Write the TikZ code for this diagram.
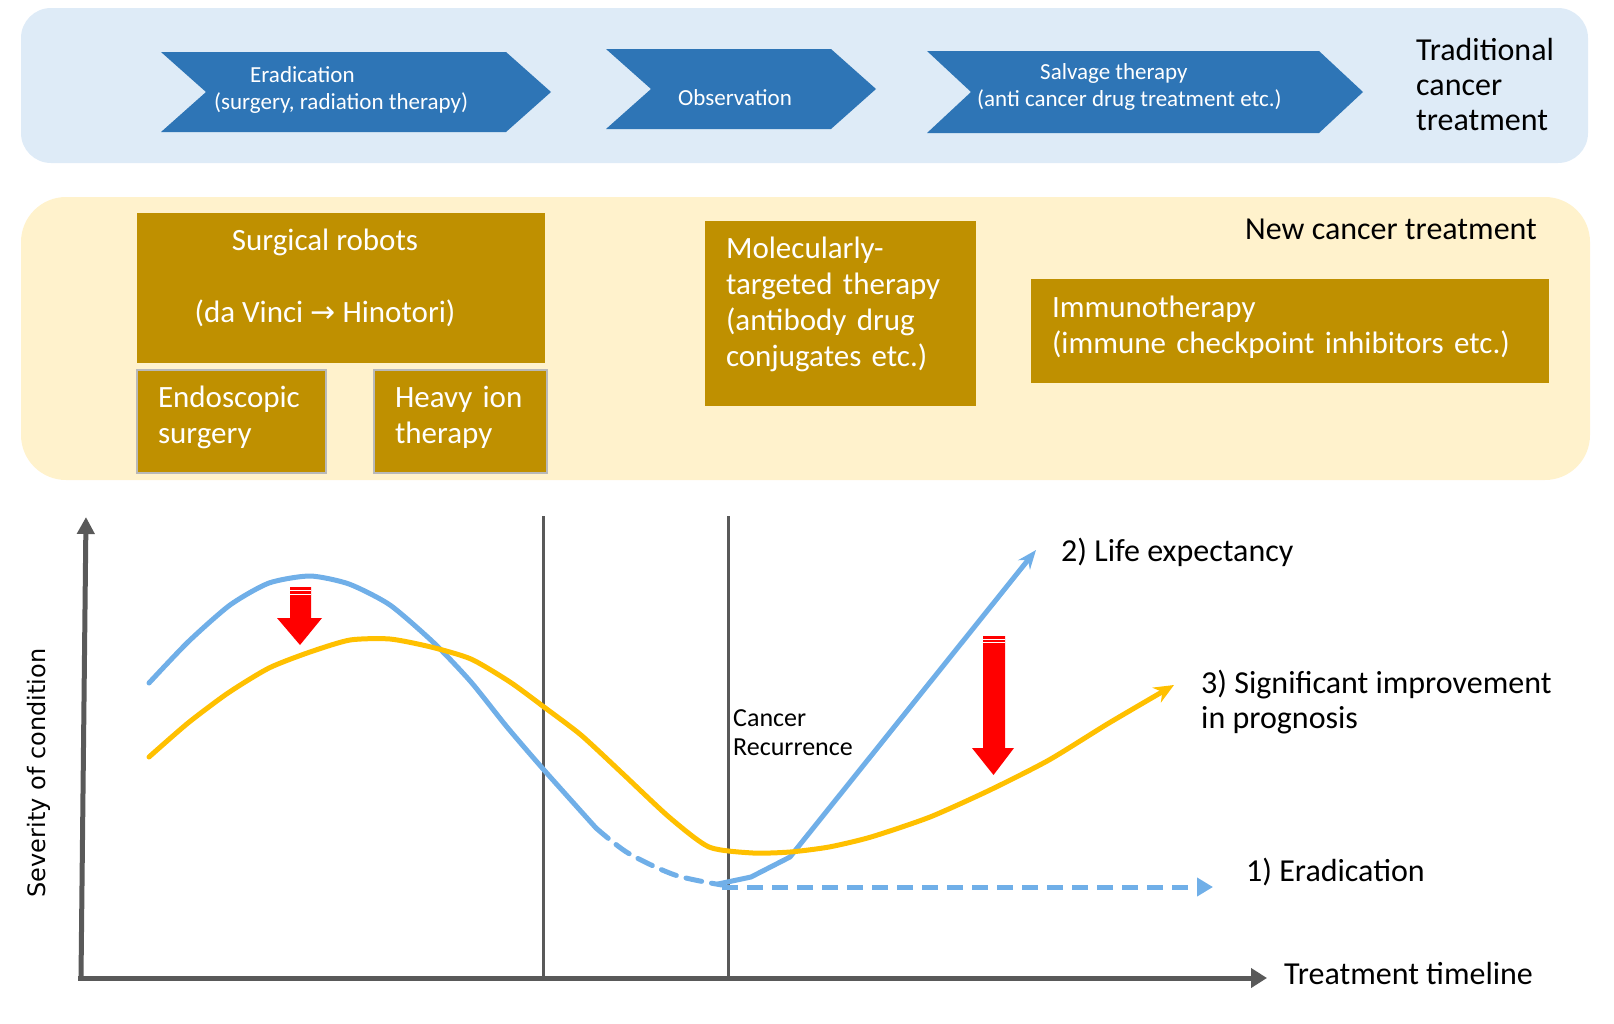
\documentclass[tikz,border=0pt]{standalone}
\usepackage{fontspec}
\setmainfont{Carlito}
\newfontfamily\axisfont{DejaVu Sans}
\usepackage{tikz}
\usetikzlibrary{arrows.meta,calc}
\definecolor{panelblue}{HTML}{DEEBF7}
\definecolor{panelcream}{HTML}{FFF2CC}
\definecolor{chevblue}{HTML}{2E75B6}
\definecolor{gold}{HTML}{BF9000}
\definecolor{curveblue}{HTML}{70AFE8}
\definecolor{curveyellow}{HTML}{FFC000}
\definecolor{axisgray}{HTML}{595959}

% left x, body right x, top y, bottom y, point depth
\newcommand{\chevron}[5]{%
  \fill[chevblue] (#1,#3) -- (#2,#3) -- (#2+#5,{(#3+#4)/2}) -- (#2,#4)
    -- (#1,#4) -- (#1+#5,{(#3+#4)/2}) -- cycle;}
% extra depth on a last line, to raise box text
\newcommand{\lift}[1]{\rule[-#1]{0pt}{0pt}}

\begin{document}
\begin{tikzpicture}[
    x=1pt, y=-1pt,
    >=Stealth,
    panel/.style={rounded corners=#1, draw=none},
    chevtext/.style={text=white, inner sep=0pt, align=left,
        font=\fontsize{23}{27}\selectfont},
    headlbl/.style={text=black, inner sep=0pt, align=left,
        font=\fontsize{32}{35}\selectfont},
    goldbox/.style={fill=gold, text=white, inner xsep=21pt, inner ysep=0pt,
        align=left, font=\fontsize{31}{36}\selectfont},
    grayrim/.style={draw=gray!55, line width=1.2pt},
    axisline/.style={draw=axisgray, line width=5pt},
    gridline/.style={draw=axisgray, line width=3pt},
    curve/.style={line width=5pt, line cap=round, line join=round},
    redarrow/.style={fill=red, draw=none},
    stripe/.style={draw=white, line width=1pt}
]
\useasboundingbox (0,0) rectangle (1614,1023);

% traditional treatment band
\fill[panel=30pt, panelblue] (21,8) rectangle (1588,163);
\chevron{161}{506}{52}{132}{45}
\chevron{606}{831}{49}{129}{45}
\chevron{927}{1319}{51}{133}{44}
\node[chevtext, anchor=west] (erad) at (214,89.5)
    {\hspace*{36pt}Eradication\\(surgery, radiation therapy)};
\node[chevtext, anchor=center] (obs) at (735,98) {Observation};
\node[chevtext, anchor=west] (salv) at (977,87)
    {\hspace*{63pt}Salvage therapy\\(anti cancer drug treatment etc.)};
\node[headlbl, anchor=west] (trad) at (1416,85)
    {Traditional\\cancer\\treatment};

% new treatment band
\fill[panel=45pt, panelcream] (21,197) rectangle (1590,480);
\node[goldbox, minimum width=408pt, minimum height=150pt] (robots) at (341,288) {};
\node[goldbox, fill=none, align=center, inner xsep=0pt] (robotstxt) at (325,278)
    {Surgical robots\\[36pt](da Vinci {\axisfont\fontsize{30}{36}\selectfont →} Hinotori)};
\node[goldbox, grayrim, text width=147pt, minimum height=103pt] (endo) at (231.5,421.5)
    {Endoscopic\\surgery\lift{14pt}};
\node[goldbox, grayrim, text width=131pt, minimum height=103pt] (heavy) at (460.5,421.5)
    {Heavy ion\\therapy\lift{14pt}};
\node[goldbox, text width=229pt, minimum height=185pt] (molec) at (840.5,313.5)
    {Molecularly-\\targeted therapy\\(antibody drug\\conjugates etc.)\lift{24pt}};
\node[goldbox, text width=476pt, minimum height=104pt] (immuno) at (1290,331)
    {Immunotherapy\\(immune checkpoint inhibitors etc.)\lift{12pt}};
\node[headlbl, anchor=east] (newlbl) at (1537,229) {New cancer treatment};

% chart axes
\coordinate (origin) at (81,978);
\coordinate (ytop) at (86,517);
\coordinate (xend) at (1267,978);
\draw[axisline, -{Triangle[length=17pt, width=17pt]}] (origin) -- (ytop);
\draw[axisline, -{Triangle[length=16pt, width=19pt]}] (78,978) -- (xend);
\draw[gridline] (543,516) -- (543,978);
\draw[gridline] (728,516) -- (728,980);
\node[headlbl, anchor=west] (timeline) at (1284,973) {Treatment timeline};
\node[inner sep=0pt, rotate=90, font=\axisfont\fontsize{24}{28}\selectfont]
    (severity) at (39,773) {Severity of condition};

% curves
\draw[curve, curveblue] plot[smooth, tension=0.4] coordinates {(149,683) (188,642)
    (230,605) (269,583) (310,576) (349,584) (390,605) (434,643) (471,682)
    (507,727) (544,770) (596,828)};
\draw[curve, curveblue, dash pattern=on 16pt off 10pt] plot[smooth, tension=0.5]
    coordinates {(596,828) (628,853) (675,875) (722,885)};
\draw[curve, curveblue, line cap=butt, dash pattern=on 16pt off 9pt,
    -{Triangle[length=16pt, width=18pt]}] (722,887) -- (1213,887);
\draw[curve, curveblue, -{Stealth[length=19pt, width=15pt]}]
    (718,884) -- (751,877) -- (790,857) -- (1036,550);
\draw[curve, curveyellow, -{Stealth[length=20pt, width=17pt]}]
    plot[smooth, tension=0.4] coordinates {(149,757) (188,723) (228,693)
    (269,668) (310,652) (350,640) (390,639) (431,647) (471,659) (510,682)
    (544,707) (581,735) (622,773) (669,817) (709,847) (753,853) (790,852)
    (829,847) (871,837) (930,817) (990,790) (1049,760) (1109,723) (1174,685)};

% improvement arrows
\fill[redarrow] (290,587) -- (311,587) -- (311,618) -- (322,618) -- (300,645)
    -- (277,618) -- (290,618) -- cycle;
\draw[stripe] (290,590.5) -- (311,590.5);
\draw[stripe] (290,594) -- (311,594);
\fill[redarrow] (983,636) -- (1005,636) -- (1005,748) -- (1014,748) -- (993.5,775)
    -- (972,748) -- (983,748) -- cycle;
\draw[stripe] (983,639) -- (1005,639);
\draw[stripe] (983,642.5) -- (1005,642.5);

% chart labels
\node[inner sep=0pt, align=left, font=\fontsize{26}{29}\selectfont, anchor=west]
    (recur) at (733,732.5) {Cancer\\Recurrence};
\node[headlbl, anchor=west] (life) at (1061,552) {2) Life expectancy};
\node[headlbl, anchor=west] (prog) at (1201,702)
    {3) Significant improvement\\in prognosis};
\node[headlbl, anchor=west] (eradlbl) at (1246,872) {1) Eradication};
\end{tikzpicture}
\end{document}
